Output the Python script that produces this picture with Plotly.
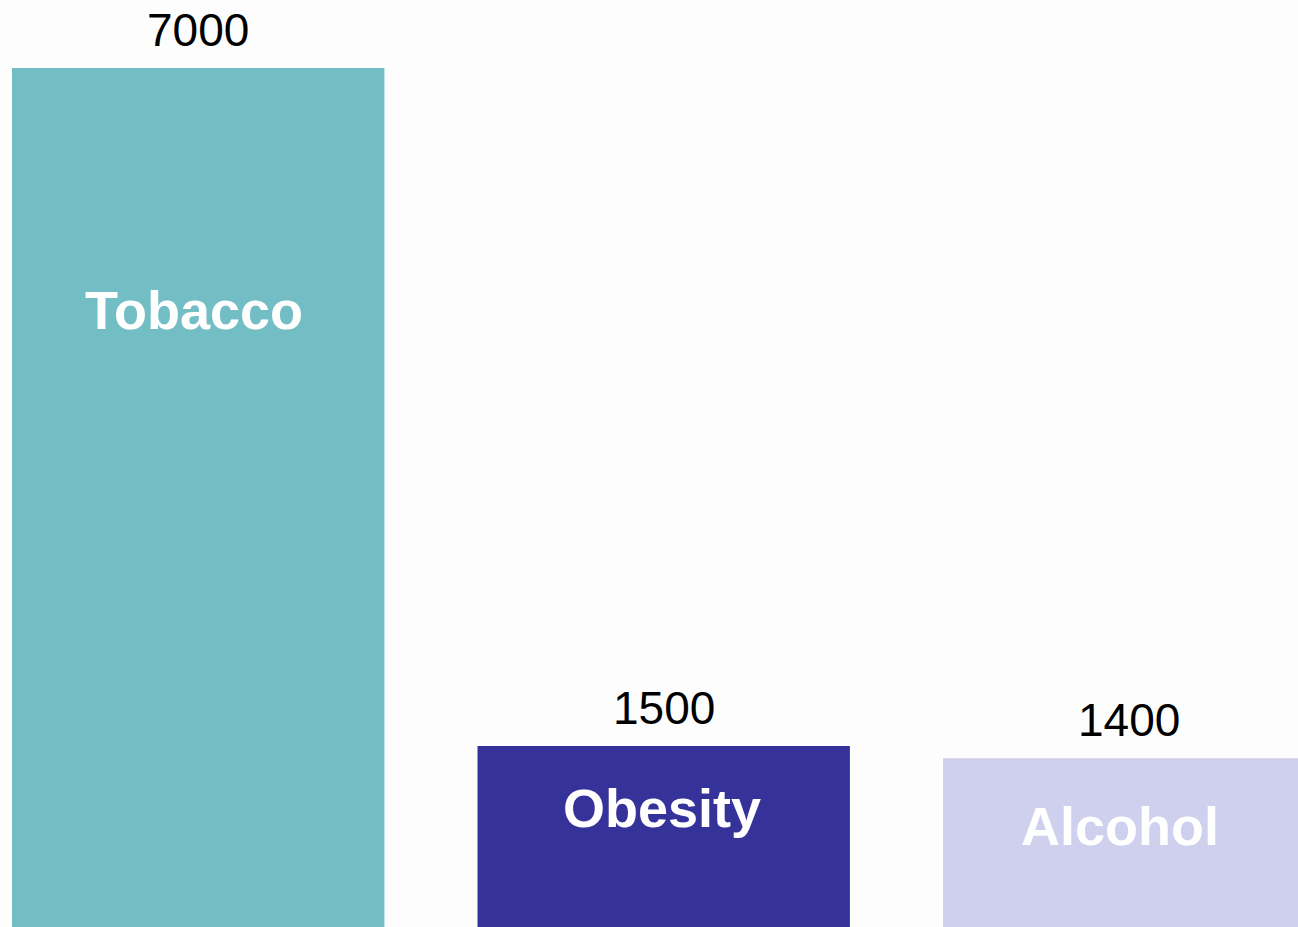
import plotly.graph_objects as go

categories = ["Tobacco", "Obesity", "Alcohol"]
values = [7000, 1500, 1400]
value_labels = ["7000", "1500", "1400"]
bar_colors = ["#72BEC4", "#353399", "#CFCFEE"]

# styling: pixel offsets of the inside category label relative to the bar top / centre
inside_label_offsets = [242, 62, 68]
inside_label_xshifts = [-4, -2, -9]

fig = go.Figure()
fig.add_trace(go.Bar(
    x=categories,
    y=values,
    marker=dict(color=bar_colors, line=dict(width=0)),
    width=0.8,
    hoverinfo="skip",
))

font_family = "Liberation Sans, Arial, sans-serif"
for cat, val, lab, off, xs in zip(categories, values, value_labels,
                                  inside_label_offsets, inside_label_xshifts):
    fig.add_annotation(
        x=cat, y=val, text=lab, showarrow=False,
        xanchor="center", yanchor="bottom", yshift=10,
        font=dict(family=font_family, size=46, color="#000000"),
    )
    fig.add_annotation(
        x=cat, y=val, text=cat, showarrow=False,
        xanchor="center", yanchor="middle", yshift=-off, xshift=xs,
        font=dict(family=font_family, size=54, color="#FFFFFF", weight="bold"),
    )

fig.update_layout(
    width=1298, height=927,
    margin=dict(l=0, r=0, t=0, b=0),
    paper_bgcolor="#FDFDFD",
    plot_bgcolor="#FDFDFD",
    showlegend=False,
    xaxis=dict(type="category", range=[-0.4258, 2.3626], visible=False,
               showgrid=False, zeroline=False, fixedrange=True),
    yaxis=dict(range=[32, 7552], visible=False, showgrid=False,
               zeroline=False, fixedrange=True),
)

fig.write_html(
    "out.html",
    config={"displayModeBar": False},
    post_script="document.body.style.margin='0';document.body.style.overflow='hidden';document.body.style.background='#FDFDFD';",
)
